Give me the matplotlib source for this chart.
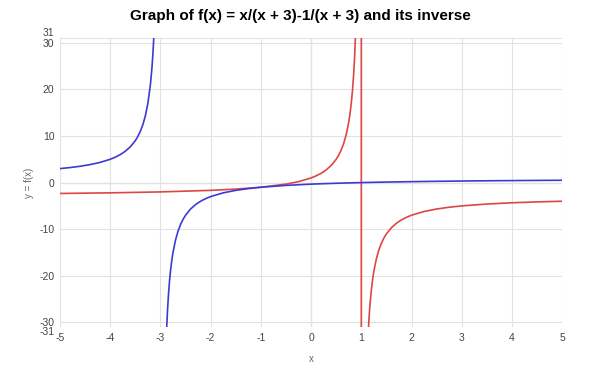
import matplotlib.pyplot as plt

plt.rcParams['axes.unicode_minus'] = False
plt.rcParams['font.family'] = ['Liberation Sans', 'DejaVu Sans']

# f(x) = (x - 1)/(x + 3)
f_left_x = [-5, -4.8, -4.6, -4.4, -4.2, -4, -3.9, -3.8, -3.7, -3.6, -3.5, -3.45, -3.4,
            -3.35, -3.3, -3.25, -3.2, -3.175, -3.16, -3.15, -3.14, -3.133]
f_left_y = [3, 3.222, 3.5, 3.857, 4.333, 5, 5.444, 6, 6.714, 7.667, 9, 9.889, 11,
            12.43, 14.33, 17, 21, 23.86, 26, 27.67, 29.57, 31]
f_right_x = [-2.875, -2.86, -2.84, -2.82, -2.8, -2.775, -2.75, -2.7, -2.65, -2.6, -2.55,
             -2.5, -2.4, -2.3, -2.2, -2.1, -2, -1.75, -1.5, -1.25, -1, -0.5, 0, 0.5, 1,
             1.5, 2, 2.5, 3, 3.5, 4, 4.5, 5]
f_right_y = [-31, -27.57, -24, -21.22, -19, -16.78, -15, -12.33, -10.43, -9, -7.889,
             -7, -5.667, -4.714, -4, -3.444, -3, -2.2, -1.667, -1.286, -1, -0.6, -0.333,
             -0.143, 0, 0.111, 0.2, 0.273, 0.333, 0.385, 0.429, 0.467, 0.5]

# inverse g(x) = (3x + 1)/(1 - x), one series with the jump at x = 1
g_x = [-5, -4, -3, -2, -1.5, -1, -0.5, -0.25, 0, 0.1, 0.2, 0.3, 0.4, 0.5, 0.55, 0.6,
       0.65, 0.7, 0.75, 0.775, 0.8, 0.825, 0.85, 0.865, 0.882, 0.999, 1.001, 1.143, 1.16,
       1.175, 1.2, 1.225, 1.25, 1.3, 1.35, 1.4, 1.45, 1.5, 1.6, 1.7, 1.8, 1.9, 2, 2.25,
       2.5, 2.75, 3, 3.5, 4, 4.5, 5]
g_y = [-2.333, -2.2, -2, -1.667, -1.4, -1, -0.333, 0.2, 1, 1.444, 2, 2.714, 3.667, 5,
       5.889, 7, 8.429, 10.33, 13, 14.78, 17, 19.86, 23.67, 26.63, 31, 3997, -4003, -31,
       -28, -25.86, -23, -20.78, -19, -16.33, -14.43, -13, -11.89, -11, -9.667, -8.714,
       -8, -7.444, -7, -6.2, -5.667, -5.286, -5, -4.6, -4.333, -4.143, -4]

x_ticks = [-5, -4, -3, -2, -1, 0, 1, 2, 3, 4, 5]
y_ticks = [-31, -30, -20, -10, 0, 10, 20, 30, 31]

fig = plt.figure(figsize=(6, 3.73), dpi=100)
ax = fig.add_axes([0.1, 0.123, 0.837, 0.775])

blue = '#3b3bd4'
red = '#dd4646'
ax.plot(f_left_x, f_left_y, color=blue, lw=1.2, zorder=3)
ax.plot(f_right_x, f_right_y, color=blue, lw=1.2, zorder=3)
ax.plot(g_x, g_y, color=red, lw=1.2, zorder=2)

ax.set_xlim(-5, 5)
ax.set_ylim(-31, 31)
ax.set_xticks(x_ticks)
ax.set_yticks(y_ticks)
ax.grid(True, color='#e2e2e2', lw=0.8)
ax.axhline(0, color='#b0b0b0', lw=0.8, zorder=1)
ax.axvline(0, color='#b0b0b0', lw=0.8, zorder=1)
for s in ax.spines.values():
    s.set_visible(False)
ax.tick_params(length=0, labelsize=7.5, labelcolor='#444444', pad=4)
# the 31 / -31 end labels sit just outside the 30 / -30 ones
ylabels = ax.get_yticklabels()
ylabels[-1].set_va('bottom')
ylabels[0].set_va('top')

ax.set_xlabel('x', fontsize=7, color='#666666', labelpad=8)
ax.set_ylabel('y = f(x)', fontsize=7, color='#666666', labelpad=4)
fig.suptitle('Graph of f(x) = x/(x + 3)-1/(x + 3) and its inverse', fontsize=11,
             fontweight='bold', x=0.5, y=0.975)

fig.savefig('out.png', dpi=100)
